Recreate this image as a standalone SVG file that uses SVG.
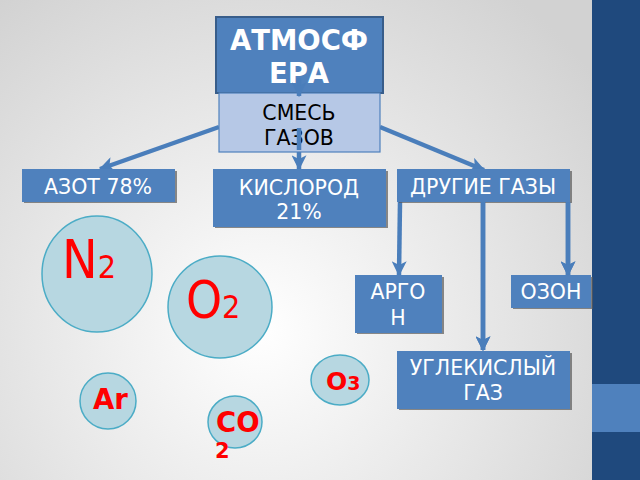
<svg xmlns="http://www.w3.org/2000/svg" width="640" height="480" viewBox="0 0 640 480">
<defs>
<radialGradient id="bg" cx="260" cy="330" r="420" gradientUnits="userSpaceOnUse">
<stop offset="0" stop-color="#ffffff"/>
<stop offset="1" stop-color="#d2d2d2"/>
</radialGradient>
<marker id="ah" viewBox="0 0 12 12" refX="11" refY="6" markerWidth="15" markerHeight="15" markerUnits="userSpaceOnUse" orient="auto">
<path d="M0,0 L12,6 L0,12 L3,6 z" fill="#4a7ebb"/>
</marker>
<style>
.box{fill:#4f81bd;}
.sh{fill:#5a5a5a;opacity:0.7;}
.wt{fill:#ffffff;font-family:"DejaVu Sans",sans-serif;font-size:20.5px;text-anchor:middle;}
.ln{stroke:#4a7ebb;stroke-width:4.5;fill:none;marker-end:url(#ah);}
.mol{fill:#b7d7e1;stroke:#4bacc6;stroke-width:1.5;}
.red{fill:#ff0000;font-family:"DejaVu Sans",sans-serif;}
</style>
</defs>
<rect x="0" y="0" width="640" height="480" fill="url(#bg)"/>
<rect x="592" y="0" width="48" height="480" fill="#1f497d"/>
<rect x="592" y="384" width="48" height="48" fill="#4f81bd"/>

<g id="connectors">
<line class="ln" x1="219" y1="127" x2="100" y2="169"/>
<line class="ln" x1="299" y1="128" x2="299" y2="169"/>
<line class="ln" x1="380" y1="127" x2="484" y2="170"/>
<line class="ln" x1="400" y1="202" x2="399" y2="275"/>
<line class="ln" x1="483" y1="202" x2="483" y2="350"/>
<line class="ln" x1="568" y1="202" x2="568" y2="275"/>
</g>

<g id="atmosfera">
<rect x="216" y="17" width="167" height="76" fill="#4f81bd" stroke="#385d8a" stroke-width="2"/>
<text x="299" y="50" fill="#ffffff" font-family="DejaVu Sans, sans-serif" font-weight="bold" font-size="27.5" text-anchor="middle">АТМОСФ</text>
<text x="299" y="83" fill="#ffffff" font-family="DejaVu Sans, sans-serif" font-weight="bold" font-size="27.5" text-anchor="middle">ЕРА</text>
</g>
<g id="smes">
<rect x="219" y="93" width="161" height="59" fill="#b6c8e6" stroke="#4f81bd" stroke-width="1.2"/>
<text x="299" y="120" fill="#000000" font-family="DejaVu Sans, sans-serif" font-size="20.5" text-anchor="middle">СМЕСЬ</text>
<text x="299" y="145" fill="#000000" font-family="DejaVu Sans, sans-serif" font-size="20.5" text-anchor="middle">ГАЗОВ</text>
</g>
<line class="ln" x1="299" y1="78" x2="299" y2="96"/>
<line x1="299" y1="128" x2="299" y2="150" stroke="#4a7ebb" stroke-width="4.5"/>

<g id="azot">
<rect class="sh" x="24" y="171" width="153" height="32"/>
<rect class="box" x="22" y="169" width="153" height="33"/>
<text class="wt" x="98" y="194">АЗОТ 78%</text>
</g>
<g id="kislorod">
<rect class="sh" x="215" y="171" width="173" height="57"/>
<rect class="box" x="213" y="169" width="173" height="58"/>
<text class="wt" x="299" y="195">КИСЛОРОД</text>
<text class="wt" x="299" y="219">21%</text>
</g>
<g id="drugie">
<rect class="sh" x="399" y="171" width="173" height="32"/>
<rect class="box" x="397" y="169" width="173" height="33"/>
<text class="wt" x="483" y="194">ДРУГИЕ ГАЗЫ</text>
</g>
<g id="argon">
<rect class="sh" x="357" y="277" width="87" height="57"/>
<rect class="box" x="355" y="275" width="87" height="58"/>
<text class="wt" x="398" y="299">АРГО</text>
<text class="wt" x="398" y="325">Н</text>
</g>
<g id="ozon">
<rect class="sh" x="513" y="277" width="80" height="32"/>
<rect class="box" x="511" y="275" width="80" height="33"/>
<text class="wt" x="551" y="299">ОЗОН</text>
</g>
<line class="ln" x1="568" y1="202" x2="568" y2="275"/>
<g id="uglekisly">
<rect class="sh" x="399" y="353" width="173" height="57"/>
<rect class="box" x="397" y="351" width="173" height="58"/>
<text class="wt" x="483" y="375">УГЛЕКИСЛЫЙ</text>
<text class="wt" x="483" y="400">ГАЗ</text>
</g>
<line class="ln" x1="483" y1="202" x2="483" y2="350"/>

<g id="n2">
<ellipse class="mol" cx="97" cy="274" rx="55" ry="58"/>
<text class="red" x="62" y="278" font-size="53" font-family="DejaVu Sans Condensed, DejaVu Sans, sans-serif" font-stretch="condensed">N<tspan font-size="32">2</tspan></text>
</g>
<g id="o2">
<ellipse class="mol" cx="220" cy="307" rx="52" ry="51"/>
<text class="red" x="186" y="318" font-size="51" font-family="DejaVu Sans Condensed, DejaVu Sans, sans-serif" font-stretch="condensed">O<tspan font-size="32">2</tspan></text>
</g>
<g id="o3">
<ellipse class="mol" cx="340" cy="380" rx="29" ry="25"/>
<text class="red" x="326" y="390" font-size="25" font-weight="bold">O<tspan font-size="19">3</tspan></text>
</g>
<g id="ar">
<ellipse class="mol" cx="108" cy="401" rx="28" ry="28"/>
<text class="red" x="93" y="409" font-size="27.5" font-weight="bold">Ar</text>
</g>
<g id="co2">
<ellipse class="mol" cx="235" cy="422" rx="27" ry="26"/>
<text class="red" x="216" y="432" font-size="27.5" font-weight="bold">CO</text>
<text class="red" x="215" y="458" font-size="21" font-weight="bold">2</text>
</g>
</svg>
